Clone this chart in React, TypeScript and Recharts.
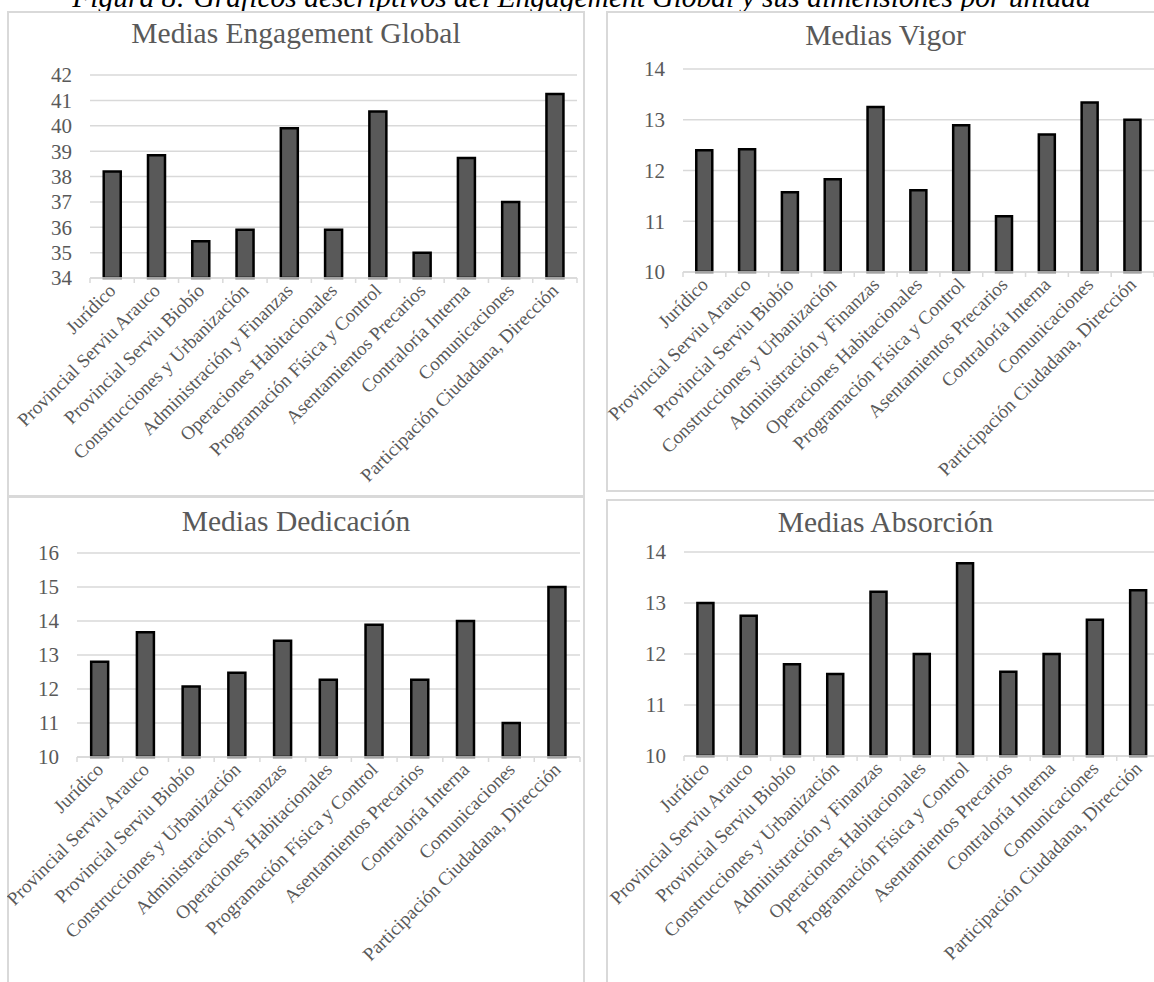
import React from "react";
import { BarChart, Bar, XAxis, YAxis, CartesianGrid } from "recharts";

// Units surveyed (category axis of every panel)
const unidades = [
  "Jurídico",
  "Provincial Serviu Arauco",
  "Provincial Serviu Biobío",
  "Construcciones y Urbanización",
  "Administración y Finanzas",
  "Operaciones Habitacionales",
  "Programación Física y Control",
  "Asentamientos Precarios",
  "Contraloría Interna",
  "Comunicaciones",
  "Participación Ciudadana, Dirección",
];

// Mean scores per unit
const engagementGlobal = [38.2, 38.84, 35.45, 35.9, 39.9, 35.9, 40.56, 35.0, 38.73, 37.0, 41.25];
const vigor = [12.4, 12.42, 11.57, 11.83, 13.25, 11.61, 12.89, 11.1, 12.71, 13.34, 13.0];
const dedicacion = [12.8, 13.67, 12.07, 12.48, 13.42, 12.27, 13.89, 12.27, 14.0, 11.0, 15.0];
const absorcion = [13.0, 12.75, 11.8, 11.61, 13.22, 12.0, 13.78, 11.65, 12.0, 12.67, 13.25];

// Value-axis tick labels
const ticksEngagement = [34, 35, 36, 37, 38, 39, 40, 41, 42];
const ticksVigor = [10, 11, 12, 13, 14];
const ticksDedicacion = [10, 11, 12, 13, 14, 15, 16];
const ticksAbsorcion = [10, 11, 12, 13, 14];

const titulos = ["Medias Engagement Global", "Medias Vigor", "Medias Dedicación", "Medias Absorción"];
const pieDeFigura =
  "Figura 8: Gráficos descriptivos del Engagement Global y sus dimensiones por unidad";

const FONT = '"Liberation Serif", "Times New Roman", serif';
const GREY_TEXT = "#595959";
const GRID = "#d9d9d9";

type Layout = {
  panel: { x: number; y: number; w: number; h: number };
  plot: { left: number; top: number; right: number; height: number };
  titleY: number;
};

const layouts: Layout[] = [
  { panel: { x: 7, y: 11, w: 578, h: 486 }, plot: { left: 90, top: 75, right: 577, height: 203 }, titleY: 34 },
  { panel: { x: 606, y: 11, w: 559, h: 481 }, plot: { left: 683, top: 69, right: 1154, height: 203 }, titleY: 36 },
  { panel: { x: 7, y: 496, w: 578, h: 520 }, plot: { left: 77, top: 553, right: 580, height: 204 }, titleY: 522 },
  { panel: { x: 606, y: 499, w: 559, h: 520 }, plot: { left: 684, top: 552, right: 1160, height: 204 }, titleY: 523 },
];

const series = [
  { values: engagementGlobal, ticks: ticksEngagement },
  { values: vigor, ticks: ticksVigor },
  { values: dedicacion, ticks: ticksDedicacion },
  { values: absorcion, ticks: ticksAbsorcion },
];

function CategoryTick(props: any) {
  const { x, y, payload, index, half, lastIndex } = props;
  const b = payload && typeof payload.offset === "number" && payload.offset > 0 ? payload.offset : half;
  const ly = y + 9;
  return (
    <g>
      <line x1={x - b} x2={x - b} y1={y} y2={y + 5} stroke={GRID} strokeWidth={1.5} />
      {index === lastIndex && <line x1={x + b} x2={x + b} y1={y} y2={y + 5} stroke={GRID} strokeWidth={1.5} />}
      <text
        x={x}
        y={ly}
        dy="0.35em"
        textAnchor="end"
        transform={`rotate(-45, ${x}, ${ly})`}
        fill={GREY_TEXT}
        fontSize={19}
        fontFamily={FONT}
      >
        {payload.value}
      </text>
    </g>
  );
}

function Panel({ index }: { index: number }) {
  const { panel, plot, titleY } = layouts[index];
  const { values, ticks } = series[index];
  const data = unidades.map((u, i) => ({ unidad: u, media: values[i] }));
  const marginTop = plot.top - panel.y;
  const marginRight = panel.x + panel.w - plot.right;
  const yAxisWidth = plot.left - panel.x;
  const xAxisHeight = panel.h - marginTop - plot.height;
  const half = (plot.right - plot.left) / unidades.length / 2;
  const domain: [number, number] = [ticks[0], ticks[ticks.length - 1]];

  return (
    <>
      <div
        style={{
          position: "absolute",
          left: panel.x,
          top: panel.y,
          width: panel.w,
          height: panel.h,
          border: `2px solid ${GRID}`,
          boxSizing: "border-box",
        }}
      />
      <div
        style={{
          position: "absolute",
          left: panel.x + panel.w / 2,
          top: titleY - 14.75,
          transform: "translateX(-50%)",
          whiteSpace: "nowrap",
          fontFamily: FONT,
          fontSize: 29.5,
          lineHeight: "29.5px",
          color: GREY_TEXT,
        }}
      >
        {titulos[index]}
      </div>
      <div style={{ position: "absolute", left: panel.x, top: panel.y }}>
        <BarChart
          width={panel.w}
          height={panel.h}
          data={data}
          margin={{ top: marginTop, right: marginRight, left: 0, bottom: 0 }}
          barCategoryGap="31%"
        >
          <CartesianGrid vertical={false} stroke={GRID} strokeWidth={1.5} />
          <XAxis
            dataKey="unidad"
            interval={0}
            height={xAxisHeight}
            tickLine={false}
            tickSize={0}
            tickMargin={0}
            axisLine={{ stroke: GRID, strokeWidth: 1.5 }}
            tick={<CategoryTick half={half} lastIndex={unidades.length - 1} />}
          />
          <YAxis
            type="number"
            domain={domain}
            ticks={ticks}
            interval={0}
            width={yAxisWidth}
            axisLine={false}
            tickLine={false}
            tickSize={0}
            tickMargin={18}
            tick={{ fill: GREY_TEXT, fontSize: 21, fontFamily: FONT }}
          />
          <Bar dataKey="media" fill="#595959" stroke="#000000" strokeWidth={2.5} isAnimationActive={false} />
        </BarChart>
      </div>
    </>
  );
}

export default function App() {
  const captionSize = 29.5;
  return (
    <div
      style={{
        position: "absolute",
        left: 0,
        top: 0,
        width: 1154,
        height: 982,
        overflow: "hidden",
        background: "#ffffff",
      }}
    >
      <div
        style={{
          position: "absolute",
          left: 581.5,
          top: 8 - 0.84 * captionSize,
          transform: "translateX(-50%)",
          whiteSpace: "nowrap",
          fontFamily: FONT,
          fontStyle: "italic",
          fontSize: captionSize,
          lineHeight: `${captionSize}px`,
          color: "#000000",
        }}
      >
        {pieDeFigura}
      </div>
      {layouts.map((_, i) => (
        <Panel key={i} index={i} />
      ))}
    </div>
  );
}
